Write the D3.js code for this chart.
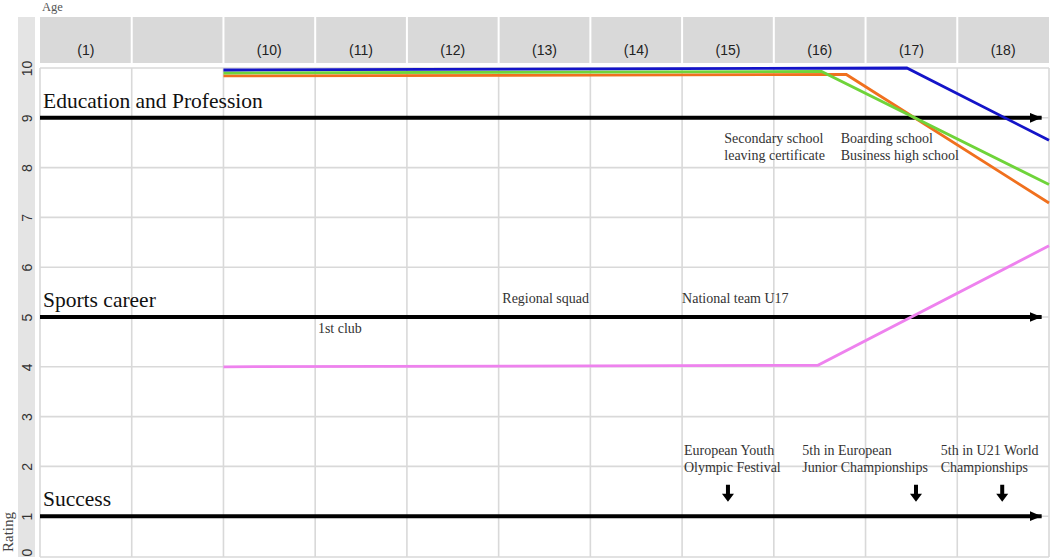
<!DOCTYPE html>

<head>
  <meta charset="utf-8">
  <script src="https://d3js.org/d3.v7.min.js"></script>
  <style>
    body {
      margin: 0;
      background: #fff;
    }

    .grid line {
      stroke: #d9d9d9;
      stroke-width: 1.6;
    }

    .axis text {
      font-family: 'Liberation Sans', sans-serif;
      font-size: 14px;
      fill: #333;
    }

    .header text {
      font-family: 'Liberation Sans', sans-serif;
      font-size: 14px;
      fill: #222;
    }

    .domain-label {
      font-family: 'Liberation Serif', serif;
      font-size: 21.5px;
      fill: #111;
    }

    .note {
      font-family: 'Liberation Serif', serif;
      font-size: 14px;
      fill: #333;
    }

    .line {
      fill: none;
      stroke-width: 2.8;
    }
  </style>
</head>

<body>
  <svg id="chart" width="1052" height="560"></svg>
  <script>
    // header columns (ages), column 2 is empty in the original
    var ageColumns = ['(1)', '', '(10)', '(11)', '(12)', '(13)', '(14)', '(15)', '(16)', '(17)', '(18)'];
    var ratingTicks = [0, 1, 2, 3, 4, 5, 6, 7, 8, 9, 10];

    // life domains drawn as black arrows
    var domainNames = ['Education and Profession', 'Sports career', 'Success'];
    var domainRatings = [9, 5, 1];
    var arrowEnd = 10.92;

    // rating curves: [column position, rating]
    var educationBlue = [[2, 9.96], [9.45, 10.0], [11, 8.55]];
    var educationGreen = [[2, 9.9], [8.52, 9.93], [11, 7.66]];
    var educationOrange = [[2, 9.84], [8.79, 9.87], [11, 7.29]];
    var sportsPink = [[2, 4.0], [8.48, 4.03], [11, 6.43]];

    // annotations: text lines, column position, rating of first baseline
    var educationNotes = [
      { lines: ['Secondary school', 'leaving certificate'], col: 7.46, rating: 8.49 },
      { lines: ['Boarding school', 'Business high school'], col: 8.73, rating: 8.49 }
    ];
    var sportsNotes = [
      { lines: ['Regional squad'], col: 5.04, rating: 5.28 },
      { lines: ['National team U17'], col: 7.0, rating: 5.28 },
      { lines: ['1st club'], col: 3.03, rating: 4.68 }
    ];
    var successNotes = [
      { lines: ['European Youth', 'Olympic Festival'], col: 7.02, rating: 2.23 },
      { lines: ['5th in European', 'Junior Championships'], col: 8.31, rating: 2.23 },
      { lines: ['5th in U21 World', 'Championships'], col: 9.82, rating: 2.23 }
    ];
    var successEvents = [7.5, 9.55, 10.49];
    var eventTop = 1.63;
    var eventTip = 1.29;

    var chart = d3.select('#chart');
    var plotTop = 68, plotBottom = 557, headerTop = 17;

    var x = d3.scaleLinear().domain([0, ageColumns.length]).range([40, 1049]);
    var y = d3.scaleLinear().domain([0, 10]).range([566, plotTop]);

    // arrowhead
    chart.append('defs').append('marker')
      .attr('id', 'head')
      .attr('markerUnits', 'userSpaceOnUse')
      .attr('markerWidth', 13)
      .attr('markerHeight', 11)
      .attr('refX', 12)
      .attr('refY', 5)
      .attr('orient', 'auto')
      .append('path')
      .attr('d', 'M0,0 L12,5 L0,10 z')
      .attr('fill', '#000');

    // left rating strip
    chart.append('rect')
      .attr('x', 18).attr('y', headerTop)
      .attr('width', 17).attr('height', plotBottom - headerTop)
      .attr('fill', '#e4e4e4');

    // header
    var header = chart.append('g').attr('class', 'header');
    header.append('rect')
      .attr('x', x(0)).attr('y', headerTop)
      .attr('width', x(ageColumns.length) - x(0)).attr('height', 46)
      .attr('fill', '#d9d9d9');
    header.selectAll('line')
      .data(d3.range(1, ageColumns.length))
      .join('line')
      .attr('x1', (d) => x(d)).attr('x2', (d) => x(d))
      .attr('y1', headerTop).attr('y2', headerTop + 46)
      .attr('stroke', '#fff').attr('stroke-width', 2);
    header.selectAll('text')
      .data(ageColumns)
      .join('text')
      .attr('x', (d, i) => x(i + 0.5))
      .attr('y', 55)
      .attr('text-anchor', 'middle')
      .text((d) => d);

    chart.append('text')
      .attr('x', 42).attr('y', 11)
      .attr('font-family', 'Liberation Serif, serif')
      .attr('font-size', 12.5)
      .attr('fill', '#555')
      .text('Age');

    chart.append('text')
      .attr('transform', 'translate(13, 532) rotate(-90)')
      .attr('text-anchor', 'middle')
      .attr('font-family', 'Liberation Serif, serif')
      .attr('font-size', 15)
      .attr('fill', '#444')
      .text('Rating');

    // grid
    var grid = chart.append('g').attr('class', 'grid');
    grid.selectAll('line.h')
      .data(ratingTicks.filter((d) => d > 0))
      .join('line')
      .attr('class', 'h')
      .attr('x1', x(0)).attr('x2', x(ageColumns.length))
      .attr('y1', (d) => y(d)).attr('y2', (d) => y(d));
    grid.append('line')
      .attr('x1', x(0)).attr('x2', x(ageColumns.length))
      .attr('y1', plotBottom).attr('y2', plotBottom);
    grid.selectAll('line.v')
      .data(d3.range(0, ageColumns.length + 1))
      .join('line')
      .attr('class', 'v')
      .attr('x1', (d) => x(d)).attr('x2', (d) => x(d))
      .attr('y1', plotTop).attr('y2', plotBottom);

    // y axis (rotated labels inside the strip)
    var axis = chart.append('g')
      .attr('class', 'axis')
      .attr('transform', 'translate(27, 0)')
      .call(d3.axisLeft(y).tickValues(ratingTicks).tickSize(0).tickFormat(d3.format('d')));
    axis.select('.domain').remove();
    axis.selectAll('text')
      .attr('x', (d) => d === 0 ? 14 : 0)
      .attr('dy', '0.36em')
      .attr('transform', 'rotate(-90)')
      .style('text-anchor', 'middle');

    // domain labels and arrows
    chart.selectAll('text.domain-label')
      .data(domainNames)
      .join('text')
      .attr('class', 'domain-label')
      .attr('x', x(0) + 3)
      .attr('y', (d, i) => y(domainRatings[i]) - 10)
      .text((d) => d);

    chart.selectAll('line.arrow')
      .data(domainRatings)
      .join('line')
      .attr('class', 'arrow')
      .attr('x1', x(0)).attr('x2', x(arrowEnd))
      .attr('y1', (d) => y(d)).attr('y2', (d) => y(d))
      .attr('stroke', '#000')
      .attr('stroke-width', 4)
      .attr('marker-end', 'url(#head)');

    // annotations
    var notes = educationNotes.concat(sportsNotes, successNotes);
    chart.selectAll('text.note')
      .data(notes)
      .join('text')
      .attr('class', 'note')
      .attr('x', (d) => x(d.col))
      .attr('y', (d) => y(d.rating))
      .selectAll('tspan')
      .data((d) => d.lines.map((t) => ({ t: t, col: d.col })))
      .join('tspan')
      .attr('x', (d) => x(d.col))
      .attr('dy', (d, i) => i === 0 ? 0 : 17)
      .text((d) => d.t);

    // event markers on the success arrow
    chart.selectAll('path.event')
      .data(successEvents)
      .join('path')
      .attr('class', 'event')
      .attr('fill', '#000')
      .attr('d', (d) => {
        var cx = x(d), top = y(eventTop), tip = y(eventTip), neck = tip - 8;
        return 'M' + (cx - 2) + ',' + top + 'L' + (cx + 2) + ',' + top +
          'L' + (cx + 2) + ',' + neck + 'L' + (cx + 6) + ',' + neck +
          'L' + cx + ',' + tip + 'L' + (cx - 6) + ',' + neck +
          'L' + (cx - 2) + ',' + neck + 'Z';
      });

    // rating curves
    var line = d3.line()
      .x((d) => x(d[0]))
      .y((d) => y(d[1]));

    var curves = [
      { data: sportsPink, color: '#ee82ee' },
      { data: educationOrange, color: '#f0701e' },
      { data: educationGreen, color: '#6fd43a' },
      { data: educationBlue, color: '#1414c8' }
    ];

    chart.selectAll('path.line')
      .data(curves)
      .join('path')
      .attr('class', 'line')
      .attr('stroke', (d) => d.color)
      .attr('d', (d) => line(d.data));
  </script>
</body>

</html>
